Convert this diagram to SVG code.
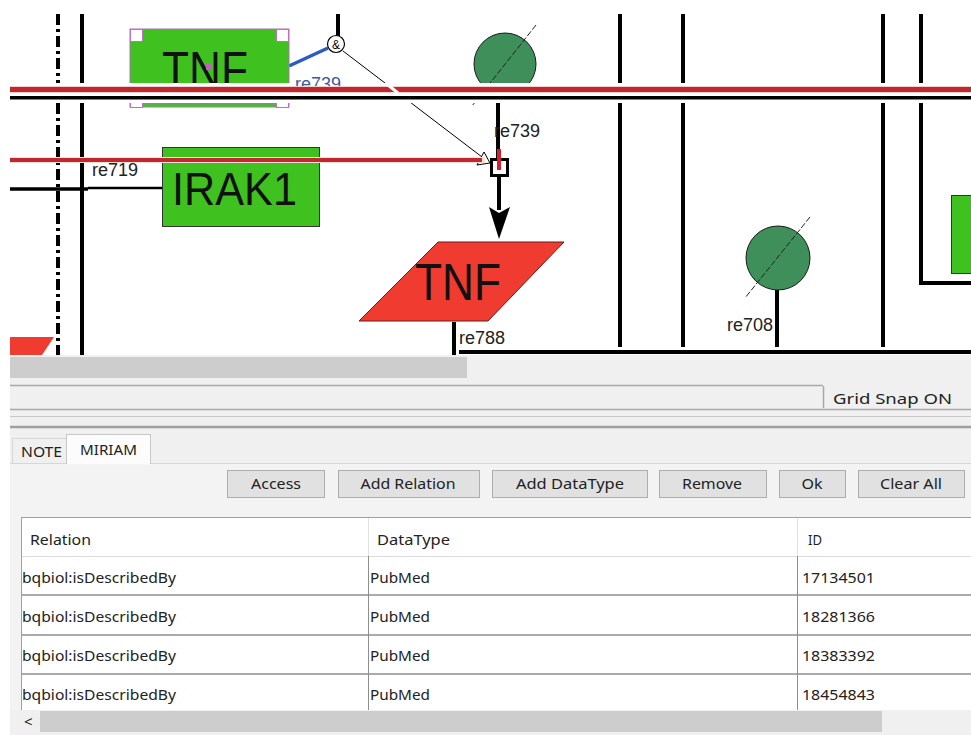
<svg xmlns="http://www.w3.org/2000/svg" width="971" height="735" viewBox="0 0 971 735">
<defs>
<style>
.ln{stroke:#000;stroke-width:4;fill:none}
.thin{stroke:#000;stroke-width:1;fill:none}
.lbl{font-family:"Liberation Sans",Arial,sans-serif;font-size:18px;fill:#222}
.big{font-family:"Liberation Sans",Arial,sans-serif;fill:#111}
.ui{font-family:"Noto Sans","Liberation Sans",sans-serif;font-size:15px;fill:#222}
.btn{fill:#e1e1e1;stroke:#adadad;stroke-width:1}
.btxt{font-family:"Noto Sans","Liberation Sans",sans-serif;font-size:15px;fill:#222;text-anchor:middle}
.row{stroke:#8e8e8e;stroke-width:1.5}
.sp{fill:#3fc21f;stroke:#333;stroke-width:1}
.deg{fill:#3f8f5b;stroke:#1a1a1a;stroke-width:1}
.slash{stroke:#222;stroke-width:1;stroke-dasharray:6 2;fill:none}
.sel{fill:#fff;stroke:#c070c0;stroke-width:1}
</style>
</defs>

<!-- canvas -->
<rect width="971" height="735" fill="#fff"/>

<!-- connectors -->
<g id="connectors">
  <path d="M58 14V83M58 103V355" class="ln" stroke-dasharray="11 4 3 4"/>
  <path d="M82 14V83M82 103V355" class="ln"/>
  <path d="M338 14V36" class="ln" stroke-width="5"/>
  <path d="M289 66L328 48" stroke="#2a5cc4" stroke-width="3.5" fill="none"/>
  <path d="M343 51L482 157" class="thin"/>
  <path d="M498 103V158" class="ln"/>
  <path d="M499 177V210" class="ln"/>
  <polygon points="489,207 499,213 510,207 499,239" fill="#000"/>
  <path d="M620 14V83M620 103V347" class="ln"/>
  <path d="M683 14V83M683 103V347" class="ln"/>
  <path d="M883 14V83M883 103V347" class="ln"/>
  <path d="M921 14V83M921 103V283H971" class="ln"/>
  <path d="M454 322V355" class="ln"/>
  <path d="M777 290V347" class="ln"/>
  <path d="M459 352H971" class="ln"/>
  <path d="M10 189H88" stroke="#000" stroke-width="3.5"/>
  <path d="M88 188H162" stroke="#000" stroke-width="2.5"/>
</g>

<!-- species nodes -->
<g id="node-tnf-top">
  <rect x="130" y="29" width="159" height="78" fill="#3fc21f" stroke="#b070b0"/>
  <text class="big" x="162" y="88" font-size="51" textLength="86" lengthAdjust="spacingAndGlyphs">TNF</text>
  <rect x="206" y="64" width="6" height="6" fill="#c060c0"/>
  <rect x="130.5" y="29.5" width="12" height="12" class="sel"/>
  <rect x="276.5" y="29.5" width="12" height="12" class="sel"/>
  <rect x="130.5" y="95.5" width="12" height="12" class="sel"/>
  <rect x="276.5" y="95.5" width="12" height="12" class="sel"/>
</g>

<g id="node-irak1">
  <rect x="162.5" y="147.5" width="157" height="79" class="sp"/>
  <text class="big" x="172" y="205" font-size="47" textLength="125" lengthAdjust="spacingAndGlyphs">IRAK1</text>
</g>

<g id="node-tnf-red">
  <polygon points="438,242 564,242 488,321 359,321" fill="#f03c30" stroke="#6a1a1a" stroke-width="1"/>
  <text class="big" x="415" y="300" font-size="51" textLength="86" lengthAdjust="spacingAndGlyphs">TNF</text>
</g>

<g id="node-degraded-1">
  <circle cx="505" cy="64" r="31" class="deg"/>
  <path d="M536 25L472 106" class="slash"/>
</g>

<g id="node-degraded-2">
  <circle cx="778" cy="258" r="32" class="deg"/>
  <path d="M810 217L745 298" class="slash"/>
</g>

<g id="node-right-species">
  <rect x="951.5" y="195.5" width="30" height="78" class="sp"/>
</g>

<g id="node-left-stub">
  <polygon points="10,337 54,337 42,355 10,355" fill="#f03c30"/>
</g>

<!-- reaction glyphs -->
<g id="reaction-re739">
  <rect x="491.5" y="159.5" width="16" height="16" fill="#fff" stroke="#000" stroke-width="3"/>
  <path d="M499 149V170" stroke="#d4202a" stroke-width="4"/>
  <circle cx="336" cy="44" r="8.5" fill="#fff" stroke="#000" stroke-width="1.2"/>
  <text x="336" y="48.5" font-family="Liberation Sans, sans-serif" font-size="12" text-anchor="middle" fill="#000">&amp;</text>
  <polygon points="484,152 477,165 490,163" fill="#fff" stroke="#000" stroke-width="1"/>
</g>

<!-- long horizontal lines crossing the canvas -->
<g id="crossing-lines">
  <rect x="10" y="83" width="961" height="20" fill="#fff"/>
  <text class="lbl" x="295" y="90" font-size="17" style="fill:#3a5aa0">re739</text>
  <rect x="10" y="86" width="961" height="7" fill="#f3d0d0"/>
  <rect x="10" y="87" width="961" height="5" fill="#c1272d"/>
  <path d="M388 85L398 93" stroke="#fff" stroke-width="3"/>
  <rect x="10" y="96" width="961" height="3.5" fill="#000"/>
  <rect x="143" y="103" width="133" height="4" fill="#5cae4c"/>
  <rect x="10" y="157" width="475" height="6" fill="#f6e0d8"/>
  <rect x="10" y="158" width="472" height="4" fill="#c1272d"/>
</g>

<!-- reaction labels -->
<g id="labels">
  <text class="lbl" x="494" y="137">re739</text>
  <text class="lbl" x="92" y="176">re719</text>
  <text class="lbl" x="459" y="344">re788</text>
  <text class="lbl" x="727" y="331">re708</text>
</g>

<!-- editor chrome below the canvas -->
<g id="panel">
  <rect x="10" y="355" width="961" height="380" fill="#f0f0f0"/>
  <rect x="10" y="357" width="457" height="21" fill="#cdcdcd"/>
  <path d="M10 385.5H823" stroke="#a8a8a8" stroke-width="1.5"/>
  <path d="M823.5 386V408" stroke="#a8a8a8" stroke-width="1.5"/>
  <text class="ui" x="833" y="404" textLength="119" lengthAdjust="spacingAndGlyphs">Grid Snap ON</text>
  <path d="M10 409.5H971" stroke="#a8a8a8" stroke-width="1.5"/>
  <path d="M10 416.5H971" stroke="#c8c8c8" stroke-width="1"/>
  <path d="M10 427H971" stroke="#a0a0a0" stroke-width="2.5"/>

  <rect x="10" y="463" width="961" height="247" fill="#f3f3f3"/>
  <path d="M10 463.5H971" stroke="#d6d6d6" stroke-width="1"/>
  <rect x="12.5" y="438.5" width="54" height="25" fill="#f0f0f0" stroke="#d6d6d6"/>
  <rect x="66.5" y="434.5" width="84" height="29" fill="#fcfcfc" stroke="#c8c8c8"/>
  <path d="M67 463.5H150" stroke="#fcfcfc" stroke-width="1.5"/>
  <text class="ui" x="21" y="457" textLength="41" lengthAdjust="spacingAndGlyphs" font-size="14">NOTE</text>
  <text class="ui" x="80" y="455" textLength="57" lengthAdjust="spacingAndGlyphs" font-size="14">MIRIAM</text>

  <rect x="227.5" y="470.5" width="97" height="27" class="btn"/>
  <rect x="338.5" y="470.5" width="141" height="27" class="btn"/>
  <rect x="492.5" y="470.5" width="155" height="27" class="btn"/>
  <rect x="659.5" y="470.5" width="107" height="27" class="btn"/>
  <rect x="779.5" y="470.5" width="66" height="27" class="btn"/>
  <rect x="858.5" y="470.5" width="106" height="27" class="btn"/>
  <text class="btxt" x="276" y="489" textLength="50" lengthAdjust="spacingAndGlyphs">Access</text>
  <text class="btxt" x="408" y="489" textLength="95" lengthAdjust="spacingAndGlyphs">Add Relation</text>
  <text class="btxt" x="570" y="489" textLength="108" lengthAdjust="spacingAndGlyphs">Add DataType</text>
  <text class="btxt" x="712" y="489" textLength="60" lengthAdjust="spacingAndGlyphs">Remove</text>
  <text class="btxt" x="812" y="489" textLength="21" lengthAdjust="spacingAndGlyphs">Ok</text>
  <text class="btxt" x="911" y="489" textLength="62" lengthAdjust="spacingAndGlyphs">Clear All</text>
</g>

<!-- annotation table -->
<g id="table">
  <rect x="21.5" y="517.5" width="951" height="193" fill="#fff" stroke="#a0a0a0"/>
  <path d="M22 556.5H971" stroke="#dcdcdc"/>
  <path d="M368.5 518V556M797.5 518V556" stroke="#e2e2e2"/>
  <path d="M368.5 556V710M797.5 556V710" stroke="#8e8e8e"/>
  <path d="M22 595H971M22 635H971M22 674H971" class="row"/>
  <text class="ui" x="30" y="545" textLength="61" lengthAdjust="spacingAndGlyphs">Relation</text>
  <text class="ui" x="377" y="545" textLength="73" lengthAdjust="spacingAndGlyphs">DataType</text>
  <text class="ui" x="808" y="545" textLength="14" lengthAdjust="spacingAndGlyphs">ID</text>

  <text class="ui" x="22" y="583" textLength="154" lengthAdjust="spacingAndGlyphs">bqbiol:isDescribedBy</text>
  <text class="ui" x="370" y="583" textLength="60" lengthAdjust="spacingAndGlyphs">PubMed</text>
  <text class="ui" x="802" y="583" textLength="73" lengthAdjust="spacingAndGlyphs">17134501</text>

  <text class="ui" x="22" y="622" textLength="154" lengthAdjust="spacingAndGlyphs">bqbiol:isDescribedBy</text>
  <text class="ui" x="370" y="622" textLength="60" lengthAdjust="spacingAndGlyphs">PubMed</text>
  <text class="ui" x="802" y="622" textLength="73" lengthAdjust="spacingAndGlyphs">18281366</text>

  <text class="ui" x="22" y="661" textLength="154" lengthAdjust="spacingAndGlyphs">bqbiol:isDescribedBy</text>
  <text class="ui" x="370" y="661" textLength="60" lengthAdjust="spacingAndGlyphs">PubMed</text>
  <text class="ui" x="802" y="661" textLength="73" lengthAdjust="spacingAndGlyphs">18383392</text>

  <text class="ui" x="22" y="700" textLength="154" lengthAdjust="spacingAndGlyphs">bqbiol:isDescribedBy</text>
  <text class="ui" x="370" y="700" textLength="60" lengthAdjust="spacingAndGlyphs">PubMed</text>
  <text class="ui" x="802" y="700" textLength="73" lengthAdjust="spacingAndGlyphs">18454843</text>

  <rect x="10" y="710" width="961" height="23" fill="#f0f0f0"/>
  <rect x="40" y="711" width="842" height="21" fill="#cdcdcd"/>
  <text class="ui" x="24" y="727" font-size="15">&lt;</text>
</g>
</svg>
